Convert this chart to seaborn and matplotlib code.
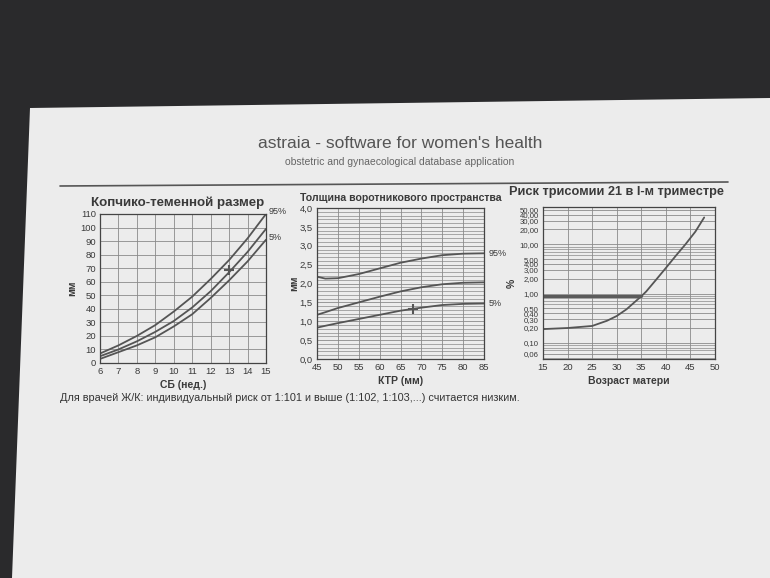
import matplotlib
matplotlib.use('Agg')
import matplotlib.pyplot as plt
import matplotlib.ticker as mticker
from matplotlib.patches import Polygon
from matplotlib.lines import Line2D
import seaborn as sns
import pandas as pd

# ---------------- data ----------------
# Chart 1: crown-rump length (mm) vs gestational week
crl_weeks = [6, 7, 8, 9, 10, 11, 12, 13, 14, 15]
crl_p95 = [7, 13, 20, 28, 38, 49, 62, 76, 92, 110]
crl_p50 = [5, 10, 16, 23, 31, 41, 53, 67, 82, 99]
crl_p5 = [3, 8, 13, 19, 27, 36, 48, 61, 75, 91]
crl_patient = (13, 69)

# Chart 2: nuchal translucency (mm) vs CRL (mm)
nt_crl = [45, 47, 50, 55, 60, 65, 70, 75, 80, 85]
nt_p95 = [2.18, 2.13, 2.14, 2.25, 2.40, 2.55, 2.66, 2.75, 2.79, 2.80]
nt_p50 = [1.17, 1.24, 1.35, 1.50, 1.65, 1.79, 1.90, 1.98, 2.02, 2.03]
nt_p5 = [0.83, 0.88, 0.95, 1.06, 1.17, 1.28, 1.36, 1.43, 1.46, 1.47]
nt_patient = (68, 1.33)

# Chart 3: trisomy 21 risk (%) vs maternal age
age = [15, 20, 25, 28, 30, 32, 34, 35, 36, 38, 40, 42, 44, 46, 47.8]
risk = [0.19, 0.20, 0.22, 0.28, 0.35, 0.48, 0.72, 0.88, 1.10, 1.9, 3.3, 5.8, 10, 18, 35]
risk_line_age = [15, 35]
risk_line_val = [0.88, 0.88]
risk_ticks = [0.06, 0.10, 0.20, 0.30, 0.40, 0.50, 1.00, 2.00, 3.00, 4.00, 5.00,
              10.00, 20.00, 30.00, 40.00, 50.00]

# ---------------- style ----------------
sns.set_theme(style='white')
plt.rcParams['font.family'] = ['Liberation Sans', 'DejaVu Sans']

W, H = 770, 578
def fx(x): return x / W
def fy(y): return 1 - y / H

PAPER = '#ececec'
INK = '#3a3a3a'
CURVE = '#555555'
GRID = '#8a8a8a'

fig = plt.figure(figsize=(7.7, 5.78), dpi=100)
fig.patch.set_facecolor('#2a2a2c')
paper = Polygon([(fx(30), fy(108)), (fx(770), fy(98)), (fx(770), fy(578)), (fx(12), fy(578))],
                closed=True, transform=fig.transFigure, facecolor=PAPER,
                edgecolor='none', zorder=-10)
fig.patches.append(paper)

fig.text(fx(400), fy(143), "astraia - software for women's health", ha='center', va='center',
         fontsize=12.5, color='#555555')
fig.text(fx(400), fy(162), "obstetric and gynaecological database application", ha='center',
         va='center', fontsize=7.5, color='#666666')
fig.lines.append(Line2D([fx(60), fx(728)], [fy(186), fy(182)], transform=fig.transFigure,
                        color='#555555', lw=1.2))
fig.text(fx(60), fy(398), "Для врачей Ж/К: индивидуальный риск от 1:101 и выше (1:102, 1:103,...) считается низким.",
         ha='left', va='center', fontsize=7.85, color='#333333')


def add_ax(l, t, r, b):
    ax = fig.add_axes([fx(l), fy(b), (r - l) / W, (b - t) / H])
    ax.set_facecolor(PAPER)
    for s in ax.spines.values():
        s.set_color('#444444')
        s.set_linewidth(0.9)
    ax.tick_params(length=0, labelsize=6.8, colors=INK, pad=3)
    return ax


def draw_curves(ax, x, series):
    rows = []
    for name, ys in series.items():
        for xi, yi in zip(x, ys):
            rows.append({'x': xi, 'y': yi, 'curve': name})
    df = pd.DataFrame(rows)
    sns.lineplot(data=df, x='x', y='y', units='curve', estimator=None, ax=ax,
                 color=CURVE, lw=1.3, legend=False)


# ---------------- chart 1 ----------------
ax1 = add_ax(100, 214, 266, 363)
draw_curves(ax1, crl_weeks, {'p95': crl_p95, 'p50': crl_p50, 'p5': crl_p5})
sns.scatterplot(x=[crl_patient[0]], y=[crl_patient[1]], marker='+', s=45, color=CURVE,
                linewidth=1.5, ax=ax1, legend=False)
ax1.set_xlim(6, 15)
ax1.set_ylim(0, 110)
ax1.set_xticks(range(6, 16))
ax1.set_yticks(range(0, 111, 10))
ax1.grid(True, color=GRID, lw=0.6)
ax1.set_xlabel('СБ (нед.)', fontsize=7.5, fontweight='bold', color=INK, labelpad=3)
ax1.set_ylabel('мм', fontsize=7.5, fontweight='bold', color=INK, labelpad=2)
ax1.set_title('Копчико-теменной размер', fontsize=9.6, fontweight='bold', color=INK, pad=6, x=0.47)
ax1.text(15.15, 112, '95%', fontsize=6.5, color=INK, va='center', ha='left', clip_on=False)
ax1.text(15.15, 93, '5%', fontsize=6.5, color=INK, va='center', ha='left', clip_on=False)

# ---------------- chart 2 ----------------
ax2 = add_ax(317, 208, 484, 359)
draw_curves(ax2, nt_crl, {'p95': nt_p95, 'p50': nt_p50, 'p5': nt_p5})
sns.scatterplot(x=[nt_patient[0]], y=[nt_patient[1]], marker='+', s=45, color=CURVE,
                linewidth=1.5, ax=ax2, legend=False)
ax2.set_xlim(45, 85)
ax2.set_ylim(0, 4.0)
ax2.set_xticks(range(45, 86, 5))
ax2.set_yticks([i * 0.5 for i in range(9)])
ax2.yaxis.set_major_formatter(mticker.FuncFormatter(lambda v, p: f'{v:.1f}'.replace('.', ',')))
ax2.yaxis.set_minor_locator(mticker.MultipleLocator(0.1))
ax2.grid(True, which='major', color=GRID, lw=0.6)
ax2.grid(True, which='minor', axis='y', color=GRID, lw=0.5)
ax2.set_xlabel('КТР (мм)', fontsize=7.5, fontweight='bold', color=INK, labelpad=3)
ax2.set_ylabel('мм', fontsize=7.5, fontweight='bold', color=INK, labelpad=0)
ax2.set_title('Толщина воротникового пространства', fontsize=7.6, fontweight='bold',
              color=INK, pad=5)
ax2.text(86, 2.80, '95%', fontsize=6.5, color=INK, va='center', ha='left', clip_on=False)
ax2.text(86, 1.47, '5%', fontsize=6.5, color=INK, va='center', ha='left', clip_on=False)

# ---------------- chart 3 ----------------
ax3 = add_ax(543, 207, 715, 359)
sns.lineplot(x=age, y=risk, ax=ax3, color=CURVE, lw=1.3, legend=False)
sns.lineplot(x=risk_line_age, y=risk_line_val, ax=ax3, color='#5a5a5a', lw=2.2, legend=False)
ax3.set_yscale('log')
ax3.set_xlim(15, 50)
ax3.set_ylim(0.047, 57)
ax3.set_xticks(range(15, 51, 5))
ax3.set_yticks(risk_ticks)
ax3.yaxis.set_major_formatter(mticker.FuncFormatter(lambda v, p: f'{v:.2f}'.replace('.', ',')))
ax3.yaxis.set_minor_locator(mticker.LogLocator(base=10, subs=range(1, 10)))
ax3.yaxis.set_minor_formatter(mticker.NullFormatter())
ax3.tick_params(which='both', length=0)
ax3.tick_params(axis='y', labelsize=5.6)
ax3.grid(True, which='major', color=GRID, lw=0.6)
ax3.grid(True, which='minor', axis='y', color=GRID, lw=0.5)
ax3.set_xlabel('Возраст матери', fontsize=7.5, fontweight='bold', color=INK, labelpad=3)
ax3.set_ylabel('%', fontsize=7.5, fontweight='bold', color=INK, labelpad=2)
ax3.set_title('Риск трисомии 21 в I-м триместре', fontsize=9.2, fontweight='bold',
              color=INK, pad=9, x=0.43)

fig.savefig('out.png', dpi=100, facecolor=fig.get_facecolor())
